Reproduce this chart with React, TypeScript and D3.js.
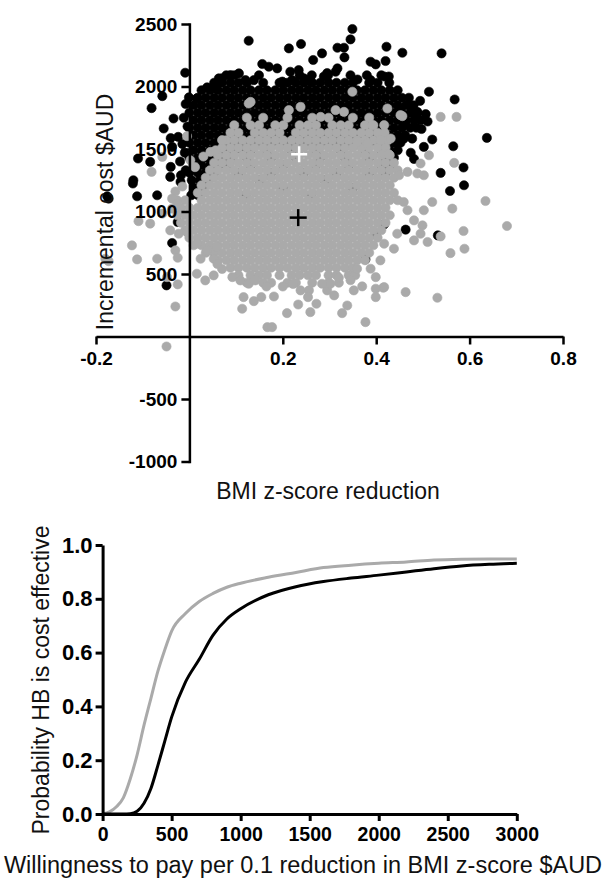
import React, { useEffect, useRef } from 'react';
import * as d3 from 'd3';

// ---------- Scatter data (BMI z-score reduction, incremental cost $AUD) ----------
// Black series, dense part: [cost, bmi values]
const blackRows: [number, number[]][] = [
  [2090, [0.079, 0.096, 0.149, 0.236, 0.262, 0.297, 0.345, 0.380, 0.411]],
  [2030, [0.053, 0.070, 0.088, 0.105, 0.123, 0.158, 0.193, 0.210, 0.228, 0.245, 0.263, 0.280, 0.298, 0.315, 0.333, 0.350, 0.385, 0.403, 0.428]],
  [1970, [0.026, 0.044, 0.061, 0.079, 0.096, 0.114, 0.131, 0.149, 0.166, 0.184, 0.201, 0.219, 0.236, 0.254, 0.271, 0.289, 0.306, 0.324, 0.341, 0.359, 0.376, 0.394, 0.411, 0.429, 0.446]],
  [1910, [0.018, 0.035, 0.053, 0.070, 0.088, 0.105, 0.123, 0.140, 0.158, 0.175, 0.193, 0.210, 0.228, 0.245, 0.263, 0.280, 0.298, 0.315, 0.333, 0.350, 0.368, 0.385, 0.403, 0.420, 0.438, 0.455, 0.470]],
  [1850, [0.009, 0.026, 0.044, 0.061, 0.079, 0.096, 0.114, 0.131, 0.149, 0.166, 0.184, 0.201, 0.219, 0.236, 0.254, 0.271, 0.289, 0.306, 0.324, 0.341, 0.359, 0.376, 0.394, 0.411, 0.429, 0.446, 0.464, 0.480]],
  [1790, [0.000, 0.018, 0.035, 0.053, 0.070, 0.088, 0.105, 0.123, 0.140, 0.158, 0.175, 0.193, 0.210, 0.228, 0.245, 0.263, 0.280, 0.298, 0.315, 0.333, 0.350, 0.368, 0.385, 0.403, 0.420, 0.438, 0.455, 0.473, 0.488]],
  [1730, [0.009, 0.026, 0.044, 0.061, 0.079, 0.096, 0.114, 0.131, 0.149, 0.166, 0.184, 0.201, 0.219, 0.236, 0.254, 0.271, 0.289, 0.306, 0.324, 0.341, 0.359, 0.376, 0.394, 0.411, 0.429, 0.446, 0.464, 0.481, 0.495]],
  [1670, [0.000, 0.018, 0.035, 0.053, 0.070, 0.088, 0.105, 0.123, 0.140, 0.158, 0.175, 0.193, 0.210, 0.228, 0.245, 0.263, 0.280, 0.298, 0.315, 0.333, 0.350, 0.368, 0.385, 0.403, 0.420, 0.438, 0.455, 0.473, 0.486]],
  [1610, [0.009, 0.026, 0.044, 0.061, 0.079, 0.096, 0.114, 0.131, 0.149, 0.166, 0.184, 0.201, 0.219, 0.236, 0.254, 0.271, 0.289, 0.306, 0.324, 0.341, 0.359, 0.376, 0.394, 0.411, 0.429, 0.446, 0.462]],
  [1550, [0.000, 0.018, 0.035, 0.053, 0.070, 0.088, 0.105, 0.123, 0.140, 0.158, 0.175, 0.193, 0.210, 0.228, 0.245, 0.263, 0.280, 0.298, 0.315, 0.333, 0.350, 0.368, 0.385, 0.403, 0.420, 0.438, 0.452]],
  [1490, [0.009, 0.026, 0.044, 0.061, 0.079, 0.096, 0.114, 0.131, 0.166, 0.219, 0.271, 0.324, 0.376, 0.411, 0.429, 0.446]],
  [1430, [0.000, 0.018, 0.035, 0.053, 0.070, 0.088, 0.123, 0.175, 0.228, 0.280, 0.333, 0.385, 0.420, 0.438]],
  [1370, [0.009, 0.026, 0.044, 0.061, 0.079, 0.131, 0.201, 0.271, 0.341, 0.411, 0.429]],
  [1310, [0.000, 0.018, 0.035, 0.053, 0.105, 0.175, 0.245, 0.315, 0.385, 0.420]],
  [1250, [0.005, 0.022, 0.040, 0.150, 0.290]],
  [1190, [0.010, 0.028, 0.200, 0.350]],
  [1130, [0.004, 0.019, 0.120, 0.260]],
];

// Black series: individually read points [bmi, cost]
const blackPoints: [number, number][] = [
  [-0.009, 2110], [0.063, 2065], [0.127, 2366], [0.213, 2305], [0.239, 2340], [0.349, 2460], [0.345, 2377],
  [0.317, 2310], [0.331, 2310], [0.332, 2233], [0.284, 2265], [0.265, 2212], [0.422, 2318], [0.456, 2270],
  [0.420, 2204], [0.388, 2198], [0.399, 2177], [0.156, 2180], [0.170, 2158], [0.188, 2145], [0.216, 2118],
  [0.234, 2131], [0.317, 2145], [0.313, 2118], [0.295, 2107], [0.288, 2080], [0.360, 2056], [0.388, 2051],
  [0.417, 2080], [0.427, 2080], [0.088, 2091], [0.106, 2105], [0.070, 2065], [0.120, 2051], [0.138, 2051],
  [0.199, 2039], [0.220, 2051], [0.245, 2065], [0.259, 2039], [0.540, 2265], [0.016, 1905], [0.038, 1993],
  [0.056, 1987], [0.513, 1958], [0.568, 1896], [0.494, 1885], [0.474, 1843], [0.488, 1797], [0.506, 1779],
  [0.452, 1824], [0.462, 1700], [0.497, 1660], [0.510, 1720],
  [0.459, 1583], [0.477, 1583], [0.520, 1576], [0.502, 1517], [0.637, 1589], [0.565, 1522], [0.538, 1309],
  [0.587, 1352], [0.474, 1470], [0.481, 1420], [0.588, 1210], [0.558, 1164], [0.463, 855], [0.417, 897],
  [0.399, 817], [0.377, 617], [0.532, 809],
  [-0.001, 1913], [-0.058, 1923], [-0.081, 1827], [-0.034, 1744], [-0.055, 1664], [-0.040, 1587],
  [-0.024, 1597], [-0.037, 1517], [-0.110, 1424], [-0.084, 1397], [-0.040, 1357], [-0.120, 1250],
  [-0.176, 1122], [-0.173, 1103], [-0.112, 1122], [-0.069, 1130], [-0.121, 1224], [-0.025, 916],
  [-0.049, 409], [-0.037, 748], [-0.008, 1860], [-0.012, 1750], [-0.004, 1680], [-0.015, 1540],
  [-0.010, 1470], [-0.020, 1400], [-0.008, 1330], [-0.018, 1290], [-0.041, 1277], [-0.019, 1237],
];

// Grey series, dense part: [cost, bmi values]
const greyRows: [number, number[]][] = [
  [1750, [0.123, 0.158, 0.210, 0.263, 0.298, 0.350, 0.385]],
  [1690, [0.096, 0.131, 0.149, 0.184, 0.201, 0.236, 0.254, 0.271, 0.306, 0.324, 0.341, 0.376, 0.394]],
  [1630, [0.088, 0.105, 0.140, 0.158, 0.175, 0.193, 0.228, 0.245, 0.263, 0.280, 0.298, 0.315, 0.333, 0.350, 0.368, 0.385, 0.403, 0.418]],
  [1570, [0.079, 0.096, 0.114, 0.131, 0.149, 0.166, 0.184, 0.201, 0.219, 0.236, 0.254, 0.271, 0.289, 0.306, 0.324, 0.341, 0.359, 0.376, 0.394, 0.411, 0.425]],
  [1510, [0.070, 0.088, 0.105, 0.123, 0.140, 0.158, 0.175, 0.193, 0.210, 0.228, 0.245, 0.263, 0.280, 0.298, 0.315, 0.333, 0.350, 0.368, 0.385, 0.403, 0.420]],
  [1450, [0.061, 0.079, 0.096, 0.114, 0.131, 0.149, 0.166, 0.184, 0.201, 0.219, 0.236, 0.254, 0.271, 0.289, 0.306, 0.324, 0.341, 0.359, 0.376, 0.394, 0.411, 0.429]],
  [1390, [0.053, 0.070, 0.088, 0.105, 0.123, 0.140, 0.158, 0.175, 0.193, 0.210, 0.228, 0.245, 0.263, 0.280, 0.298, 0.315, 0.333, 0.350, 0.368, 0.385, 0.403, 0.420, 0.438]],
  [1330, [0.044, 0.061, 0.079, 0.096, 0.114, 0.131, 0.149, 0.166, 0.184, 0.201, 0.219, 0.236, 0.254, 0.271, 0.289, 0.306, 0.324, 0.341, 0.359, 0.376, 0.394, 0.411, 0.429, 0.446]],
  [1270, [0.035, 0.053, 0.070, 0.088, 0.105, 0.123, 0.140, 0.158, 0.175, 0.193, 0.210, 0.228, 0.245, 0.263, 0.280, 0.298, 0.315, 0.333, 0.350, 0.368, 0.385, 0.403, 0.420, 0.438]],
  [1210, [0.026, 0.044, 0.061, 0.079, 0.096, 0.114, 0.131, 0.149, 0.166, 0.184, 0.201, 0.219, 0.236, 0.254, 0.271, 0.289, 0.306, 0.324, 0.341, 0.359, 0.376, 0.394, 0.411, 0.429]],
  [1150, [0.018, 0.035, 0.053, 0.070, 0.088, 0.105, 0.123, 0.140, 0.158, 0.175, 0.193, 0.210, 0.228, 0.245, 0.263, 0.280, 0.298, 0.315, 0.333, 0.350, 0.368, 0.385, 0.403, 0.420, 0.438]],
  [1090, [-0.026, -0.009, 0.026, 0.044, 0.061, 0.079, 0.096, 0.114, 0.131, 0.149, 0.166, 0.184, 0.201, 0.219, 0.236, 0.254, 0.271, 0.289, 0.306, 0.324, 0.341, 0.359, 0.376, 0.394, 0.411, 0.429, 0.446]],
  [1030, [-0.018, 0.000, 0.018, 0.035, 0.053, 0.070, 0.088, 0.105, 0.123, 0.140, 0.158, 0.175, 0.193, 0.210, 0.228, 0.245, 0.263, 0.280, 0.298, 0.315, 0.333, 0.350, 0.368, 0.385, 0.403, 0.420]],
  [970, [-0.026, -0.009, 0.009, 0.026, 0.044, 0.061, 0.079, 0.096, 0.114, 0.131, 0.149, 0.166, 0.184, 0.201, 0.219, 0.236, 0.254, 0.271, 0.289, 0.306, 0.324, 0.341, 0.359, 0.376, 0.394, 0.411, 0.429]],
  [910, [-0.018, 0.000, 0.018, 0.035, 0.053, 0.070, 0.088, 0.105, 0.123, 0.140, 0.158, 0.175, 0.193, 0.210, 0.228, 0.245, 0.263, 0.280, 0.298, 0.315, 0.333, 0.350, 0.368, 0.385, 0.403, 0.420]],
  [850, [-0.009, 0.009, 0.026, 0.044, 0.061, 0.079, 0.096, 0.114, 0.131, 0.149, 0.166, 0.184, 0.201, 0.219, 0.236, 0.254, 0.271, 0.289, 0.306, 0.324, 0.341, 0.359, 0.376, 0.394, 0.411]],
  [790, [0.000, 0.018, 0.035, 0.053, 0.070, 0.088, 0.105, 0.123, 0.140, 0.158, 0.175, 0.193, 0.210, 0.228, 0.245, 0.263, 0.280, 0.298, 0.315, 0.333, 0.350, 0.368, 0.385, 0.403]],
  [730, [0.009, 0.026, 0.044, 0.061, 0.079, 0.096, 0.114, 0.131, 0.149, 0.166, 0.184, 0.201, 0.219, 0.236, 0.254, 0.271, 0.289, 0.306, 0.324, 0.341, 0.359, 0.376, 0.394]],
  [670, [0.035, 0.053, 0.070, 0.088, 0.105, 0.123, 0.140, 0.158, 0.175, 0.193, 0.210, 0.228, 0.245, 0.263, 0.280, 0.298, 0.315, 0.333, 0.350, 0.368, 0.385]],
  [610, [0.061, 0.079, 0.096, 0.114, 0.131, 0.149, 0.166, 0.184, 0.201, 0.219, 0.236, 0.254, 0.271, 0.289, 0.306, 0.324, 0.341, 0.359, 0.376]],
  [550, [0.088, 0.105, 0.123, 0.140, 0.158, 0.175, 0.193, 0.210, 0.228, 0.245, 0.263, 0.280, 0.298, 0.315, 0.333, 0.350]],
  [490, [0.105, 0.131, 0.149, 0.166, 0.193, 0.219, 0.236, 0.254, 0.271, 0.298, 0.315, 0.341, 0.355]],
  [430, [0.123, 0.158, 0.175, 0.210, 0.228, 0.263, 0.298, 0.320]],
];

// Grey series: individually read points [bmi, cost]
const greyPoints: [number, number][] = [
  [0.127, 1864], [0.213, 1811], [0.238, 1837], [0.281, 1757], [0.313, 1811], [0.331, 1797], [0.349, 1958],
  [0.424, 1824], [0.456, 1763], [0.131, 1877], [0.572, 1757], [0.538, 1757], [0.392, 1691], [0.417, 1691],
  [0.359, 1557], [0.381, 1544], [0.409, 1571], [0.431, 1584], [0.417, 1464], [0.427, 1458], [0.513, 1450],
  [0.495, 1384], [0.567, 1389], [0.467, 1317], [0.488, 1304], [0.502, 1290], [0.449, 1290], [0.452, 1771],
  [-0.005, 1603], [-0.058, 1437], [-0.081, 1317], [0.002, 1410], [0.045, 1477], [0.056, 1490], [0.070, 1571],
  [0.030, 1440], [0.012, 1355], [-0.030, 1160], [-0.015, 1200],
  [-0.180, 622], [-0.173, 603], [-0.123, 729], [-0.112, 617], [-0.109, 923], [-0.084, 903], [-0.069, 622],
  [-0.058, 983], [-0.048, 475], [-0.025, 417], [-0.030, 240], [-0.049, -80], [-0.037, 1103], [-0.026, 1063],
  [-0.037, 1023], [-0.041, 849], [-0.023, 822], [-0.005, 835], [-0.030, 689], [-0.025, 630], [0.016, 742],
  [0.038, 689], [0.024, 622], [0.052, 622], [0.059, 715], [0.016, 502], [0.034, 449], [0.052, 489],
  [0.634, 1084], [0.680, 884], [0.587, 844], [0.589, 702], [0.559, 667], [0.531, 310], [0.463, 355],
  [0.415, 390], [0.520, 1076], [0.502, 1010], [0.563, 1023], [0.459, 1076], [0.467, 1010], [0.481, 929],
  [0.499, 889], [0.445, 822], [0.481, 769], [0.510, 756], [0.495, 822], [0.538, 801], [0.438, 702],
  [0.417, 742], [0.409, 609], [0.399, 475], [0.388, 542], [0.359, 542], [0.417, 395], [0.399, 382],
  [0.399, 315], [0.370, 401], [0.352, 369], [0.377, 115],
  [0.167, 75], [0.177, 75], [0.209, 187], [0.233, 256], [0.259, 195], [0.272, 262], [0.327, 187],
  [0.338, 248], [0.181, 320], [0.154, 315], [0.138, 283], [0.116, 315], [0.113, 222], [0.092, 475],
  [0.109, 449], [0.127, 422], [0.141, 449], [0.238, 369], [0.256, 369], [0.254, 315], [0.295, 369],
  [0.310, 329], [0.302, 422], [0.284, 422], [0.070, 540], [0.060, 580], [0.200, 400], [0.222, 420],
  [0.165, 400], [0.320, 470], [0.345, 450],
];

// Means (crosses)
const blackMean: [number, number] = [0.235, 1458];
const greyMean: [number, number] = [0.233, 951];

// ---------- CEAC data ----------
const wtp = [0, 50, 100, 150, 200, 250, 300, 350, 400, 450, 500, 600, 700, 800, 900, 1000, 1200, 1400, 1600, 1800, 2000, 2200, 2400, 2600, 2800, 3000];
const probGrey = [0, 0.008, 0.027, 0.06, 0.13, 0.22, 0.33, 0.43, 0.53, 0.61, 0.68, 0.745, 0.79, 0.82, 0.843, 0.858, 0.88, 0.898, 0.916, 0.925, 0.932, 0.937, 0.944, 0.947, 0.948, 0.948];
const probBlack = [0, 0, 0, 0, 0.001, 0.01, 0.04, 0.095, 0.18, 0.27, 0.36, 0.49, 0.575, 0.665, 0.725, 0.763, 0.815, 0.845, 0.864, 0.877, 0.888, 0.9, 0.912, 0.922, 0.928, 0.932];

// ---------- Ticks ----------
const topXTicks = [-0.2, 0.2, 0.4, 0.6, 0.8];
const topYTicks = [-1000, -500, 500, 1000, 1500, 2000, 2500];
const botXTicks = [0, 500, 1000, 1500, 2000, 2500, 3000];
const botYTicks = [0, 0.2, 0.4, 0.6, 0.8, 1.0];

const GREY = '#aaaaaa';
const FONT = '"Liberation Sans", Arial, Helvetica, sans-serif';

export default function App() {
  const ref = useRef<SVGSVGElement>(null);

  useEffect(() => {
    const svg = d3.select(ref.current);
    svg.selectAll('*').remove();

    // ===== Top scatter =====
    const x = d3.scaleLinear().domain([-0.2, 0.8]).range([96, 563]);
    const y = d3.scaleLinear().domain([-1000, 2500]).range([461.5, 24]);
    const r = 4.6;

    const flat = (rows: [number, number[]][]) =>
      rows.flatMap(([c, xs]) => xs.map((b) => [b, c] as [number, number]));

    const black = [...flat(blackRows), ...blackPoints];
    const grey = [...flat(greyRows), ...greyPoints];

    const top = svg.append('g');
    top.append('g').selectAll('circle').data(black).join('circle')
      .attr('cx', (d) => x(d[0])).attr('cy', (d) => y(d[1])).attr('r', r)
      .attr('fill', '#000').attr('stroke', '#000').attr('stroke-width', 0.6);
    top.append('g').selectAll('circle').data(grey).join('circle')
      .attr('cx', (d) => x(d[0])).attr('cy', (d) => y(d[1])).attr('r', r)
      .attr('fill', GREY).attr('stroke', GREY).attr('stroke-width', 0.6);

    const xAxis = d3.axisBottom(x).tickValues(topXTicks).tickSize(8).tickSizeOuter(0).tickPadding(7)
      .tickFormat((v: any) => (v < 0 ? '-' : '') + Math.abs(v).toFixed(1));
    const yAxis = d3.axisLeft(y).tickValues(topYTicks).tickSize(8).tickSizeOuter(0).tickPadding(4)
      .tickFormat((v: any) => String(v));

    const gx = top.append('g').attr('transform', `translate(0,${y(0)})`).call(xAxis);
    const gy = top.append('g').attr('transform', `translate(${x(0)},0)`).call(yAxis);
    [gx, gy].forEach((g) => {
      g.selectAll('path, line').attr('stroke', '#000').attr('stroke-width', 2.5);
      g.selectAll('text').attr('font-family', FONT).attr('font-size', 19).attr('font-weight', 'bold').attr('fill', '#000');
    });
    gy.select('path.domain').attr('stroke-linecap', 'square');

    // Crosses for means
    const cross = (m: [number, number], color: string, size: number) => {
      const g = top.append('g').attr('stroke', color).attr('stroke-width', 2.5);
      g.append('line').attr('x1', x(m[0]) - size).attr('x2', x(m[0]) + size).attr('y1', y(m[1])).attr('y2', y(m[1]));
      g.append('line').attr('x1', x(m[0])).attr('x2', x(m[0])).attr('y1', y(m[1]) - size).attr('y2', y(m[1]) + size);
    };
    cross(blackMean, '#fff', 8);
    cross(greyMean, '#000', 8.5);

    top.append('text').attr('transform', `translate(113,212) rotate(-90)`).attr('text-anchor', 'middle')
      .attr('font-family', FONT).attr('font-size', 23).attr('fill', '#111').text('Incremental cost $AUD');
    top.append('text').attr('x', 328).attr('y', 499).attr('text-anchor', 'middle')
      .attr('font-family', FONT).attr('font-size', 23).attr('fill', '#111').text('BMI z-score reduction');

    // ===== Bottom CEAC =====
    const bx = d3.scaleLinear().domain([0, 3000]).range([102.6, 516.8]);
    const by = d3.scaleLinear().domain([0, 1]).range([814, 545]);
    const bot = svg.append('g');
    const line = d3.line<number>().x((_, i) => bx(wtp[i])).y((d) => by(d)).curve(d3.curveMonotoneX);

    bot.append('path').attr('d', line(probGrey)).attr('fill', 'none').attr('stroke', GREY).attr('stroke-width', 3);
    bot.append('path').attr('d', line(probBlack)).attr('fill', 'none').attr('stroke', '#000').attr('stroke-width', 3);

    const bxAxis = d3.axisBottom(bx).tickValues(botXTicks).tickSize(7).tickSizeOuter(0).tickPadding(6)
      .tickFormat((v: any) => String(v));
    const byAxis = d3.axisLeft(by).tickValues(botYTicks).tickSize(7).tickSizeOuter(0).tickPadding(3)
      .tickFormat((v: any) => (+v).toFixed(1));
    const gbx = bot.append('g').attr('transform', `translate(0,${by(0)})`).call(bxAxis);
    const gby = bot.append('g').attr('transform', `translate(${bx(0)},0)`).call(byAxis);
    [gbx, gby].forEach((g) => {
      g.selectAll('path, line').attr('stroke', '#000').attr('stroke-width', 3);
      g.selectAll('text').attr('font-family', FONT).attr('font-weight', 'bold').attr('fill', '#000');
    });
    gbx.selectAll('text').attr('font-size', 19.5);
    gby.selectAll('text').attr('font-size', 22);

    bot.append('text').attr('transform', `translate(49,680) rotate(-90)`).attr('text-anchor', 'middle')
      .attr('font-family', FONT).attr('font-size', 23).attr('fill', '#111').text('Probability HB is cost effective');
    bot.append('text').attr('x', 303).attr('y', 873).attr('text-anchor', 'middle')
      .attr('font-family', FONT).attr('font-size', 23.5).attr('fill', '#111')
      .text('Willingness to pay per 0.1 reduction in BMI z-score $AUD');
  }, []);

  return (
    <svg
      ref={ref}
      width={607}
      height={880}
      style={{ position: 'absolute', left: 0, top: 0, background: '#fff' }}
    />
  );
}
